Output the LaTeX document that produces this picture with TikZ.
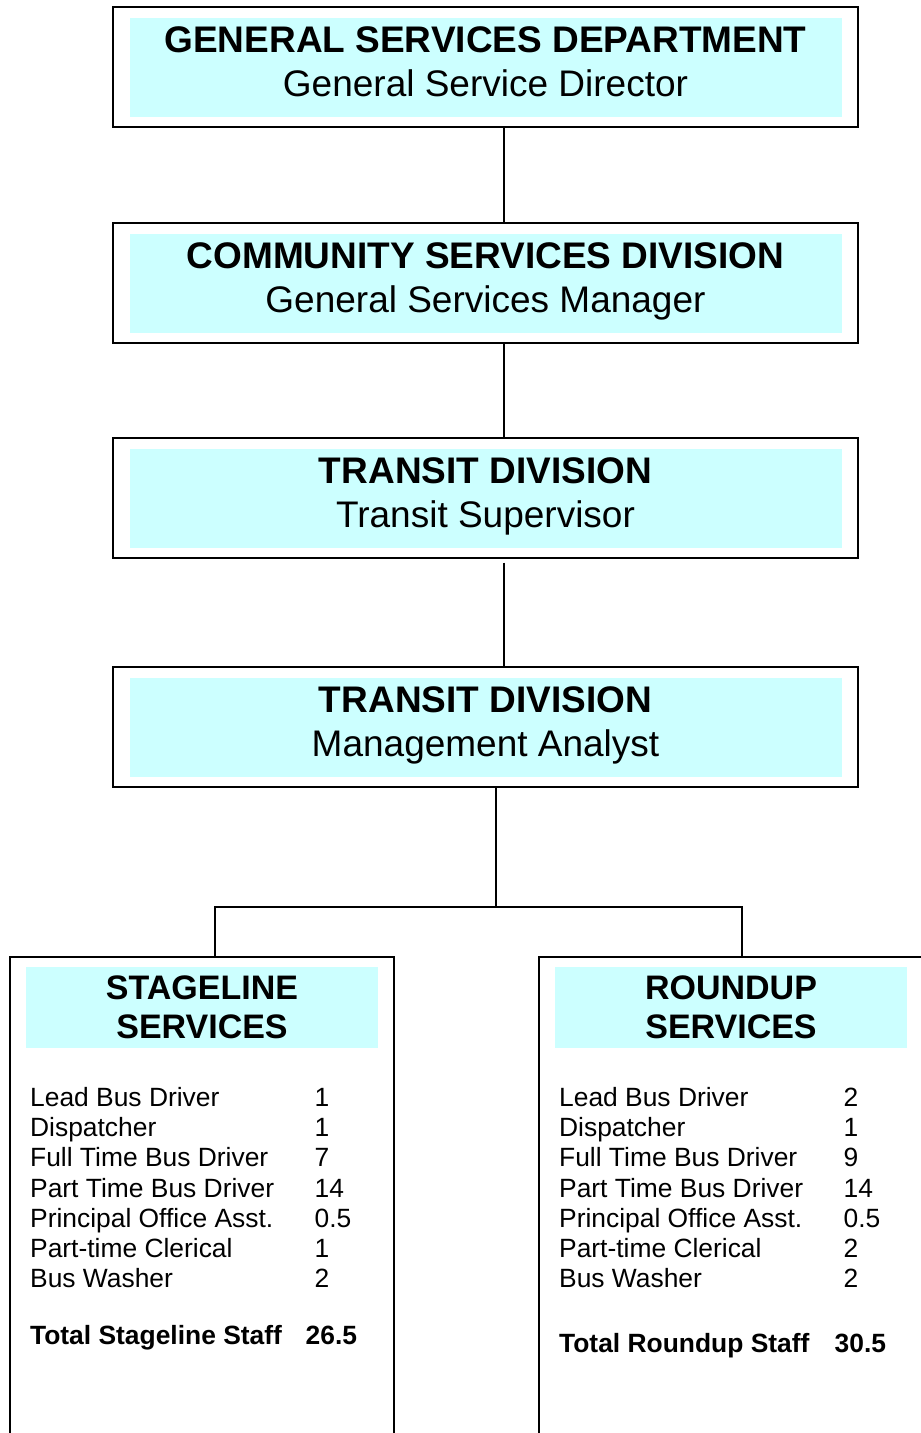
\documentclass[tikz,border=0pt]{standalone}
\usepackage{fontspec}
\setmainfont{Liberation Sans}
\usetikzlibrary{positioning,calc}
\definecolor{band}{RGB}{204,255,255}

\begin{document}
\begin{tikzpicture}[x=1pt,y=-1pt,
            line width=1.3pt,
            unitbox/.style={draw,fill=white,minimum width=745pt,minimum height=120pt,inner sep=0pt},
            unitband/.style={fill=band,minimum width=712pt,minimum height=99pt,inner sep=0pt},
            crewbox/.style={draw,fill=white,minimum width=384pt,minimum height=493pt,inner sep=0pt},
            crewband/.style={fill=band,minimum width=352pt,minimum height=81pt,inner sep=0pt},
            headtext/.style={font=\bfseries\fontsize{37}{44}\selectfont,inner sep=0pt,anchor=base},
            roletext/.style={font=\fontsize{37}{44}\selectfont,inner sep=0pt,anchor=base},
            crewhead/.style={font=\bfseries\fontsize{34}{40}\selectfont,inner sep=0pt,anchor=base},
            item/.style={font=\fontsize{26.4}{30.3}\selectfont,inner sep=0pt,anchor=base west},
            total/.style={font=\bfseries\fontsize{26.4}{30.3}\selectfont,inner sep=0pt,anchor=base west},
        ]
        \useasboundingbox (0,0) rectangle (921,1433);
        \clip (0,0) rectangle (921,1433);

        % upper chain of units
        \node[unitbox] (gsd) at (485.5,67) {};
        \node[unitband] (gsdband) at (486,67.5) {};
        \node[headtext] (gsdhead) at ([yshift=-46pt]gsd.north) {GENERAL SERVICES DEPARTMENT};
        \node[roletext] (gsdrole) at ([yshift=-90pt]gsd.north) {General Service Director};

        \node[unitbox] (csd) at (485.5,283) {};
        \node[unitband] (csdband) at (486,283) {};
        \node[headtext] (csdhead) at ([yshift=-46pt]csd.north) {COMMUNITY SERVICES DIVISION};
        \node[roletext] (csdrole) at ([yshift=-90pt]csd.north) {General Services Manager};

        \node[unitbox] (tds) at (485.5,498) {};
        \node[unitband] (tdsband) at (486,498.5) {};
        \node[headtext] (tdshead) at ([yshift=-46pt]tds.north) {TRANSIT DIVISION};
        \node[roletext] (tdsrole) at ([yshift=-90pt]tds.north) {Transit Supervisor};

        \node[unitbox] (tma) at (485.5,727) {};
        \node[unitband] (tmaband) at (486,727.5) {};
        \node[headtext] (tmahead) at ([yshift=-46pt]tma.north) {TRANSIT DIVISION};
        \node[roletext] (tmarole) at ([yshift=-90pt]tma.north) {Management Analyst};

        \coordinate (spine) at (504,0);
        \draw (gsd.south -| spine) -- (csd.north -| spine);
        \draw (csd.south -| spine) -- (tds.north -| spine);
        \draw ([yshift=-4pt]tds.south -| spine) -- (tma.north -| spine);

        % the two services
        \node[crewbox] (stage) at (202,1203.5) {};
        \node[crewband] (stageband) at (202,1007.5) {};
        \node[crewhead] (stagehead) at (202,999) {STAGELINE};
        \node[crewhead] (stagehead2) at (202,1038) {SERVICES};

        \node[crewbox] (round) at (731,1203.5) {};
        \node[crewband] (roundband) at (731,1007.5) {};
        \node[crewhead] (roundhead) at (731,999) {ROUNDUP};
        \node[crewhead] (roundhead2) at (731,1038) {SERVICES};

        \coordinate (split) at (496,907);
        \coordinate (stagetap) at (215,907);
        \coordinate (roundtap) at (742,907);
        \draw (tma.south -| split) -- (split);
        \draw (stagetap |- stage.north) -- (stagetap) -- (roundtap) -- (roundtap |- round.north);

        % staff lists
        \foreach \job/\num [count=\i from 0] in {Lead Bus Driver/1,Dispatcher/1,Full Time Bus Driver/7,
            Part Time Bus Driver/14,Principal Office Asst./0.5,Part-time Clerical/1,Bus Washer/2}{
            \node[item] (stagejob\i) at ({29.5},{1106+30.33*\i}) {\job};
            \node[item] (stagenum\i) at ({314},{1106+30.33*\i}) {\num};
        }
        \foreach \job/\num [count=\i from 0] in {Lead Bus Driver/2,Dispatcher/1,Full Time Bus Driver/9,
            Part Time Bus Driver/14,Principal Office Asst./0.5,Part-time Clerical/2,Bus Washer/2}{
            \node[item] (roundjob\i) at ({558.5},{1106+30.33*\i}) {\job};
            \node[item] (roundnum\i) at ({843},{1106+30.33*\i}) {\num};
        }
        \node[total] (stagetotal) at (29.5,1344) {Total Stageline Staff};
        \node[total] (stagesum) at (305,1344) {26.5};
        \node[total] (roundtotal) at (558.5,1352) {Total Roundup Staff};
        \node[total] (roundsum) at (834,1352) {30.5};
    \end{tikzpicture}
\end{document}
